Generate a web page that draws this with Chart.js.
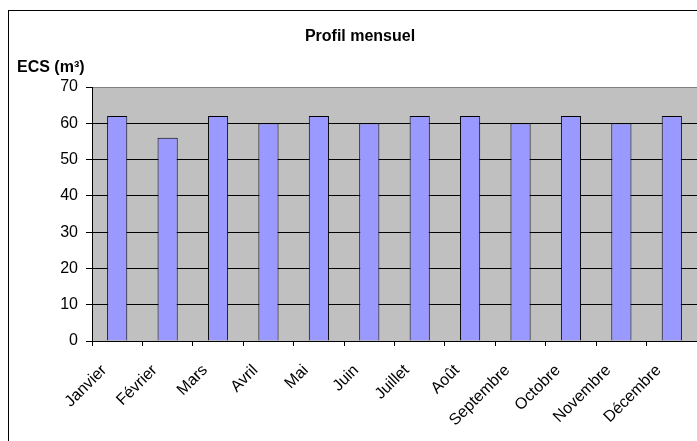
<!DOCTYPE html>
<html>
<head>
<meta charset="utf-8">
<title>Profil mensuel</title>
<script src="https://cdn.jsdelivr.net/npm/chart.js@4/dist/chart.umd.min.js"></script>
<style>
  html, body { margin: 0; padding: 0; background: #fff; }
  canvas { display: block; }
</style>
</head>
<body>
<canvas id="chart" width="697" height="441"></canvas>
<script>
// monthly hot water volume (m3)
const months = ["Janvier", "Février", "Mars", "Avril", "Mai", "Juin",
  "Juillet", "Août", "Septembre", "Octobre", "Novembre", "Décembre"];
const volumes = [62, 56, 62, 60, 62, 60, 62, 62, 60, 62, 60, 62];
const yTicks = [0, 10, 20, 30, 40, 50, 60, 70];

const chartTitle = "Profil mensuel";
const yTitle = "ECS (m³)";
const FONT = "Arial, 'Liberation Sans', sans-serif";

// outer frame, grey plot area and the two headings
const excelLook = {
  id: "excelLook",
  beforeDraw(chart) {
    const { ctx, chartArea: a } = chart;
    ctx.save();
    ctx.fillStyle = "#fff";
    ctx.fillRect(0, 0, chart.width, chart.height);
    ctx.strokeStyle = "#000";
    ctx.lineWidth = 1;
    ctx.strokeRect(8.5, 10.5, 1000, 1000);
    ctx.fillStyle = "#C0C0C0";
    ctx.fillRect(a.left, a.top, a.right - a.left, a.bottom - a.top);
    ctx.restore();
  },
  afterDraw(chart) {
    const ctx = chart.ctx;
    ctx.save();
    ctx.fillStyle = "#000";
    ctx.textBaseline = "middle";
    ctx.font = "bold 16px " + FONT;
    ctx.textAlign = "center";
    ctx.fillText(chartTitle, 360, 37);
    ctx.textAlign = "left";
    ctx.fillText(yTitle, 17, 68);
    ctx.restore();
  }
};

new Chart(document.getElementById("chart"), {
  type: "bar",
  data: {
    labels: months,
    datasets: [{
      data: volumes,
      backgroundColor: "#9999FF",
      borderColor: "#000",
      borderWidth: 1,
      barPercentage: 0.4,
      categoryPercentage: 1
    }]
  },
  options: {
    responsive: false,
    animation: false,
    layout: { padding: { top: 87, left: 0, right: 0, bottom: 0 } },
    plugins: {
      legend: { display: false },
      title: { display: false },
      tooltip: { enabled: false }
    },
    scales: {
      x: {
        grid: {
          offset: true,
          drawOnChartArea: false,
          drawTicks: true,
          tickLength: 5,
          color: "#000"
        },
        border: { display: true, color: "#000" },
        ticks: {
          autoSkip: false,
          minRotation: 45,
          maxRotation: 45,
          padding: 15,
          labelOffset: -13,
          color: "#000",
          font: { family: FONT, size: 16 }
        },
        afterFit(scale) {
          scale.height = 100;
          scale.paddingLeft = 0;
          scale.paddingRight = 0;
        }
      },
      y: {
        min: 0,
        max: 70,
        afterBuildTicks(scale) {
          scale.ticks = yTicks.map((v) => ({ value: v }));
        },
        grid: {
          color: (c) => (c.tick && c.tick.value === 70 ? "#808080" : "#000"),
          tickColor: "#000",
          tickLength: 6
        },
        border: { display: true, color: "#000" },
        ticks: {
          padding: 8,
          color: "#000",
          font: { family: FONT, size: 16 }
        },
        afterFit(scale) {
          scale.width = 92;
          scale.paddingTop = 0;
          scale.paddingBottom = 0;
        }
      }
    }
  },
  plugins: [excelLook]
});
</script>
</body>
</html>
